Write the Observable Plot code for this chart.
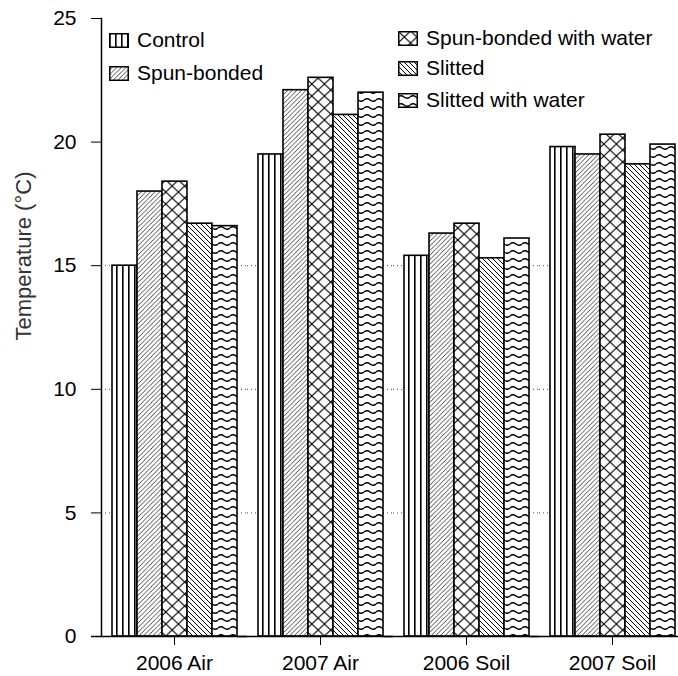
<!DOCTYPE html>
<html>
<head>
<meta charset="utf-8">
<script src="https://cdn.jsdelivr.net/npm/d3@7"></script>
<script src="https://cdn.jsdelivr.net/npm/@observablehq/plot@0.6"></script>
<style>
  html, body { margin: 0; padding: 0; background: #fff; }
  #wrap { position: relative; width: 678px; height: 676px; overflow: hidden; font-family: "Liberation Sans", Arial, sans-serif; }
  .leg { position: absolute; display: flex; align-items: center; font-size: 21px; color: #000; white-space: nowrap; }
  .leg svg { margin-right: 8px; }
</style>
</head>
<body>
<div id="wrap"></div>
<script>
// ---- data ----
const groups = ["2006 Air", "2007 Air", "2006 Soil", "2007 Soil"];
const treatments = ["Control", "Spun-bonded", "Spun-bonded with water", "Slitted", "Slitted with water"];
const control      = [15.0, 19.5, 15.4, 19.8];
const spunBonded   = [18.0, 22.1, 16.3, 19.5];
const spunWater    = [18.4, 22.6, 16.7, 20.3];
const slitted      = [16.7, 21.1, 15.3, 19.1];
const slittedWater = [16.6, 22.0, 16.1, 19.9];
const yTicks = [0, 5, 10, 15, 20, 25];
const gridTicks = [5, 10, 15];
const yLabel = "Temperature (°C)";

const seriesValues = [control, spunBonded, spunWater, slitted, slittedWater];
const rows = [];
groups.forEach((g, gi) => treatments.forEach((t, ti) => rows.push({group: g, treatment: t, value: seriesValues[ti][gi]})));

const patternIds = ["pControl", "pSpun", "pSpunW", "pSlit", "pSlitW"];
const patternUrls = patternIds.map(id => `url(#${id})`);

const chart = Plot.plot({
  width: 678,
  height: 676,
  marginTop: 18,
  marginBottom: 40,
  marginLeft: 99,
  marginRight: 0,
  style: {fontFamily: '"Liberation Sans", Arial, sans-serif', fontSize: "21px", color: "#000", background: "#fff", overflow: "visible"},
  fx: {domain: groups, padding: 0, range: [99.2, 686], label: null},
  x: {domain: treatments, paddingInner: 0, paddingOuter: 0.41, axis: null},
  y: {domain: [0, 25], axis: null},
  color: {domain: treatments, range: patternUrls},
  marks: [
    Plot.gridY(gridTicks, {stroke: "#444", strokeOpacity: 1, strokeDasharray: "1,3"}),
    Plot.barY(rows, {fx: "group", x: "treatment", y: "value", fill: "treatment", stroke: "#000", strokeWidth: 1.6}),
    Plot.ruleY([0], {insetLeft: -10, stroke: "#000", strokeWidth: 1.5}),
    Plot.frame({anchor: "left", facetAnchor: "left", stroke: "#000", strokeWidth: 1.5}),
    Plot.axisY({ticks: yTicks, tickSize: 10, tickPadding: 15, label: null, fontSize: 21, stroke: "#000"}),
    Plot.text([yLabel], {frameAnchor: "left", rotate: -90, dx: -78, dy: 13, facetAnchor: "left", fontSize: 22, fill: "#333"}),
    Plot.axisFx({anchor: "bottom", tickSize: 9, tickPadding: 10, label: null, fontSize: 21})
  ]
});

// pattern definitions
const defs = d3.select(chart).insert("defs", ":first-child");
function pat(id, w, h, build) {
  const p = defs.append("pattern").attr("id", id).attr("patternUnits", "userSpaceOnUse").attr("width", w).attr("height", h);
  p.append("rect").attr("width", w).attr("height", h).attr("fill", "#fff");
  build(p);
}
pat("pControl", 6, 6, p => p.append("rect").attr("x", 0).attr("width", 1.6).attr("height", 6).attr("fill", "#000"));
pat("pSpun", 4.6, 4.6, p => p.append("path").attr("d", "M-1,1 L1,-1 M0,4.6 L4.6,0 M3.6,5.6 L5.6,3.6").attr("stroke", "#333").attr("stroke-width", 0.9).attr("fill", "none"));
pat("pSpunW", 12.6, 12, p => p.append("path").attr("d", "M0,0 L12.6,12 M12.6,0 L0,12").attr("stroke", "#000").attr("stroke-width", 1.1).attr("fill", "none"));
pat("pSlit", 5, 5, p => p.append("path").attr("d", "M-1,4 L1,6 M0,0 L5,5 M4,-1 L6,1").attr("stroke", "#000").attr("stroke-width", 1).attr("fill", "none"));
pat("pSlitW", 12, 8, p => p.append("path").attr("d", "M0,4 Q3,1.5 6,4 T12,4").attr("stroke", "#000").attr("stroke-width", 1.5).attr("fill", "none"));

const wrap = document.getElementById("wrap");
wrap.appendChild(chart);

// legend (inside plot area)
const legendPos = [
  {left: 109, cy: 40},
  {left: 109, cy: 73},
  {left: 398, cy: 38},
  {left: 398, cy: 68},
  {left: 398, cy: 100}
];
treatments.forEach((t, i) => {
  const div = document.createElement("div");
  div.className = "leg";
  div.style.left = legendPos[i].left + "px";
  div.style.top = (legendPos[i].cy - 12) + "px";
  div.style.height = "24px";
  div.innerHTML = `<svg width="20" height="15"><rect x="0.75" y="0.75" width="18.5" height="13.5" fill="${patternUrls[i]}" stroke="#000" stroke-width="1.5"/></svg><span>${t}</span>`;
  wrap.appendChild(div);
});
</script>
</body>
</html>
